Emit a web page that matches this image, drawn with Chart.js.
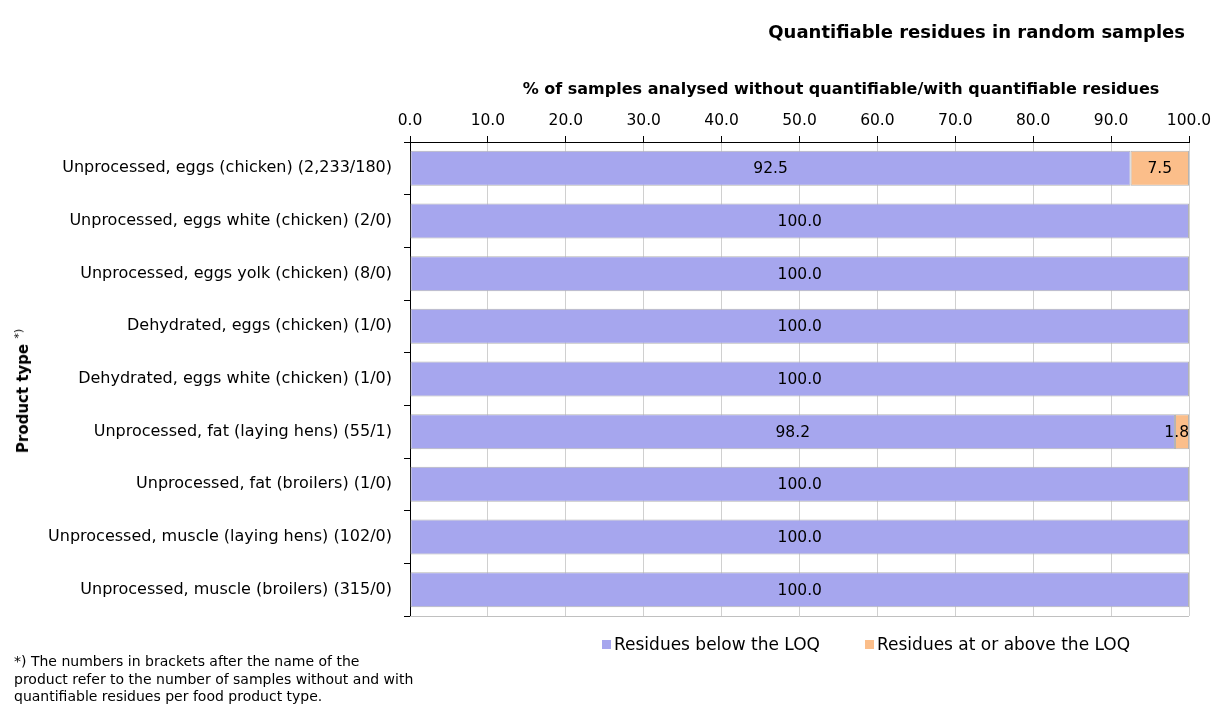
<!DOCTYPE html>
<html>
<head>
<meta charset="utf-8">
<script src="https://cdn.jsdelivr.net/npm/chart.js@4"></script>
<style>
    body { margin: 0; background: #fff; font-family: 'DejaVu Sans', sans-serif; color: #000; }
    #wrap { position: relative; width: 1212px; height: 707px; overflow: hidden; }
    #chart { position: absolute; left: 0; top: 0; }
    .txt { position: absolute; white-space: nowrap; }
    #mainTitle { right: 27px; top: 21px; font-size: 18px; font-weight: bold; }
    #xTitle { left: 441px; width: 800px; top: 79px; text-align: center; font-size: 16px; font-weight: bold; }
    #yTitle { left: 22px; top: 391px; transform: translate(-50%, -50%) rotate(-90deg); font-size: 15px; font-weight: bold; }
    #yTitle sup { font-weight: normal; font-size: 11px; }
    #footnote { left: 14px; top: 653px; font-size: 14px; line-height: 17.5px; }
    .legendItem { top: 634px; font-size: 17px; }
    .legendItem i { display: inline-block; width: 9px; height: 9px; margin-right: 3px; vertical-align: 1px; }
</style>
</head>
<body>
<div id="wrap">
    <canvas id="chart" width="1212" height="707"></canvas>
    <div class="txt" id="mainTitle">Quantifiable residues in random samples</div>
    <div class="txt" id="xTitle">% of samples analysed without quantifiable/with quantifiable residues</div>
    <div class="txt" id="yTitle">Product type <sup>*)</sup></div>
    <div class="txt" id="footnote">*) The numbers in brackets after the name of the<br>product refer to the number of samples without and with<br>quantifiable residues per food product type.</div>
    <div class="txt legendItem" id="legBelow" style="left:602px"><i></i><span></span></div>
    <div class="txt legendItem" id="legAbove" style="left:865px"><i></i><span></span></div>
</div>
<script>
const productTypes = [
    'Unprocessed, eggs (chicken) (2,233/180)',
    'Unprocessed, eggs white (chicken) (2/0)',
    'Unprocessed, eggs yolk (chicken) (8/0)',
    'Dehydrated, eggs (chicken) (1/0)',
    'Dehydrated, eggs white (chicken) (1/0)',
    'Unprocessed, fat (laying hens) (55/1)',
    'Unprocessed, fat (broilers) (1/0)',
    'Unprocessed, muscle (laying hens) (102/0)',
    'Unprocessed, muscle (broilers) (315/0)'
];
const belowLoq = [92.5, 100.0, 100.0, 100.0, 100.0, 98.2, 100.0, 100.0, 100.0];
const aboveLoq = [7.5, 0, 0, 0, 0, 1.8, 0, 0, 0];
const seriesNames = ['Residues below the LOQ', 'Residues at or above the LOQ'];
const seriesColors = ['#a6a6ee', '#fbbe8a'];

const fontFamily = "'DejaVu Sans', sans-serif";

// html legend, placed like the original
['legBelow', 'legAbove'].forEach((id, i) => {
    const el = document.getElementById(id);
    el.querySelector('i').style.background = seriesColors[i];
    el.querySelector('span').textContent = seriesNames[i];
});

// value labels in the middle of each segment
const segmentLabels = {
    id: 'segmentLabels',
    afterDatasetsDraw(chart) {
        const ctx = chart.ctx;
        ctx.save();
        ctx.font = '15.5px ' + fontFamily;
        ctx.fillStyle = '#000';
        ctx.textAlign = 'center';
        ctx.textBaseline = 'middle';
        chart.data.datasets.forEach((ds, i) => {
            chart.getDatasetMeta(i).data.forEach((bar, j) => {
                const v = ds.data[j];
                if (!v) return;
                const text = v.toFixed(1);
                const half = ctx.measureText(text).width / 2;
                let x = (bar.x + bar.base) / 2;
                x = Math.min(x, chart.chartArea.right - half);
                ctx.fillText(text, x, bar.y + 1);
            });
        });
        ctx.restore();
    }
};

// grey line closing the plot area at the bottom
const plotFrame = {
    id: 'plotFrame',
    afterDraw(chart) {
        const { left, right, bottom } = chart.chartArea;
        const ctx = chart.ctx;
        ctx.save();
        ctx.strokeStyle = '#c0c0c0';
        ctx.lineWidth = 1;
        ctx.beginPath();
        ctx.moveTo(left, bottom + 0.5);
        ctx.lineTo(right, bottom + 0.5);
        ctx.stroke();
        ctx.restore();
    }
};

new Chart(document.getElementById('chart').getContext('2d'), {
    type: 'bar',
    data: {
        labels: productTypes,
        datasets: [
            { label: seriesNames[0], data: belowLoq, backgroundColor: seriesColors[0] },
            { label: seriesNames[1], data: aboveLoq, backgroundColor: seriesColors[1] }
        ]
    },
    options: {
        indexAxis: 'y',
        responsive: false,
        animation: false,
        layout: { padding: { top: 0, right: 23, bottom: 91, left: 0 } },
        datasets: {
            bar: {
                categoryPercentage: 1,
                barPercentage: 0.665,
                borderColor: '#b4b4b4',
                borderWidth: ctx => (ctx.raw ? 1 : 0),
                borderSkipped: false
            }
        },
        scales: {
            x: {
                position: 'top',
                stacked: true,
                min: 0,
                max: 100,
                ticks: {
                    stepSize: 10,
                    color: '#000',
                    padding: 6,
                    font: { family: fontFamily, size: 15.5 },
                    callback: v => v.toFixed(1)
                },
                grid: { color: '#d0d0d0', tickColor: '#000', tickLength: 6 },
                border: { color: '#000', width: 1 },
                afterFit: scale => {
                    scale.height = 142;
                    scale.paddingLeft = 0;
                    scale.paddingRight = 0;
                }
            },
            y: {
                stacked: true,
                ticks: {
                    color: '#000',
                    padding: 12,
                    font: { family: fontFamily, size: 16 }
                },
                grid: { drawOnChartArea: false, tickColor: '#000', tickLength: 6 },
                border: { color: '#000', width: 1 },
                afterFit: scale => { scale.width = 410; }
            }
        },
        plugins: {
            legend: { display: false },
            title: { display: false },
            tooltip: { enabled: false }
        }
    },
    plugins: [segmentLabels, plotFrame]
});
</script>
</body>
</html>
